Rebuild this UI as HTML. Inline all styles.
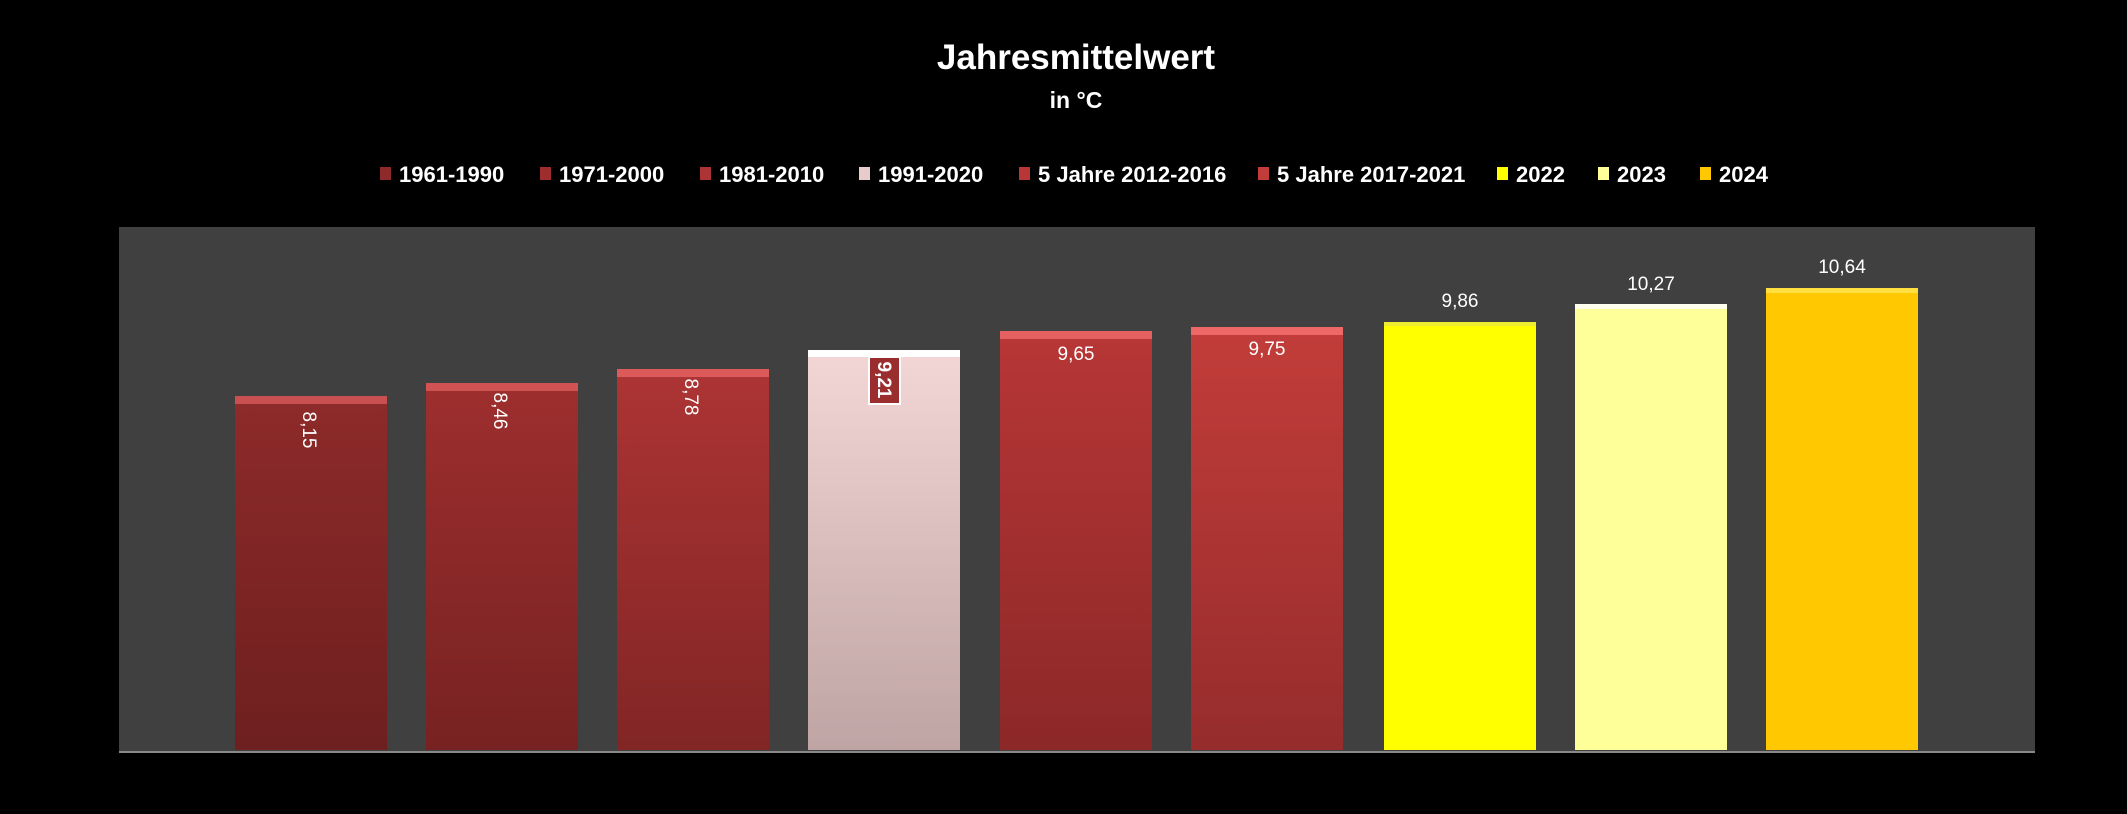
<!DOCTYPE html>
<html><head><meta charset="utf-8"><style>html,body{margin:0;padding:0;background:#000;width:2127px;height:814px;overflow:hidden}svg{display:block}text{font-family:"Liberation Sans",sans-serif}</style></head>
<body>
<svg width="2127" height="814" viewBox="0 0 2127 814" xmlns="http://www.w3.org/2000/svg">
<defs>
<linearGradient id="g1" x1="0" y1="0" x2="0" y2="1"><stop offset="0" stop-color="#8e2a2a"/><stop offset="1" stop-color="#6e1f1f"/></linearGradient>
<linearGradient id="g2" x1="0" y1="0" x2="0" y2="1"><stop offset="0" stop-color="#9e2e2e"/><stop offset="1" stop-color="#772222"/></linearGradient>
<linearGradient id="g3" x1="0" y1="0" x2="0" y2="1"><stop offset="0" stop-color="#ad3434"/><stop offset="1" stop-color="#822525"/></linearGradient>
<linearGradient id="g4" x1="0" y1="0" x2="0" y2="1"><stop offset="0" stop-color="#f3d6d6"/><stop offset="1" stop-color="#bfa4a4"/></linearGradient>
<linearGradient id="g5" x1="0" y1="0" x2="0" y2="1"><stop offset="0" stop-color="#b83636"/><stop offset="1" stop-color="#8c2828"/></linearGradient>
<linearGradient id="g6" x1="0" y1="0" x2="0" y2="1"><stop offset="0" stop-color="#c23d3a"/><stop offset="1" stop-color="#962c2c"/></linearGradient>
</defs>
<rect x="119" y="227" width="1916" height="526" fill="#404040"/>
<text x="1076" y="69" text-anchor="middle" fill="#fff" font-size="35" font-weight="bold">Jahresmittelwert</text>
<text x="1076" y="108" text-anchor="middle" fill="#fff" font-size="23" font-weight="bold">in °C</text>
<g font-size="22" font-weight="bold" fill="#fff">
<rect x="380" y="167" width="11" height="13" fill="#8e2a2a"/><text x="399" y="182">1961-1990</text>
<rect x="540" y="167" width="11" height="13" fill="#9e2e2e"/><text x="559" y="182">1971-2000</text>
<rect x="700" y="167" width="11" height="13" fill="#ad3434"/><text x="719" y="182">1981-2010</text>
<rect x="859" y="167" width="11" height="13" fill="#e8cccc"/><text x="878" y="182">1991-2020</text>
<rect x="1019" y="167" width="11" height="13" fill="#b83636"/><text x="1038" y="182">5 Jahre 2012-2016</text>
<rect x="1258" y="167" width="11" height="13" fill="#c23d3a"/><text x="1277" y="182">5 Jahre 2017-2021</text>
<rect x="1497" y="167" width="11" height="13" fill="#ffff00"/><text x="1516" y="182">2022</text>
<rect x="1598" y="167" width="11" height="13" fill="#ffff99"/><text x="1617" y="182">2023</text>
<rect x="1700" y="167" width="11" height="13" fill="#ffc800"/><text x="1719" y="182">2024</text>
</g>
<g>
<rect x="235" y="396" width="152" height="354" fill="url(#g1)"/><rect x="235" y="396" width="152" height="8" fill="#c95050"/>
<rect x="426" y="383" width="152" height="367" fill="url(#g2)"/><rect x="426" y="383" width="152" height="8" fill="#d05252"/>
<rect x="617" y="369" width="152" height="381" fill="url(#g3)"/><rect x="617" y="369" width="152" height="8" fill="#dc5a5a"/>
<rect x="808" y="350" width="152" height="400" fill="url(#g4)"/><rect x="808" y="350" width="152" height="7" fill="#ffffff"/>
<rect x="1000" y="331" width="152" height="419" fill="url(#g5)"/><rect x="1000" y="331" width="152" height="8" fill="#e56060"/>
<rect x="1191" y="327" width="152" height="423" fill="url(#g6)"/><rect x="1191" y="327" width="152" height="8" fill="#ee6868"/>
<rect x="1384" y="322" width="152" height="428" fill="#ffff00"/><rect x="1384" y="322" width="152" height="4" fill="#eeee30"/>
<rect x="1575" y="304" width="152" height="446" fill="#ffff99"/><rect x="1575" y="304" width="152" height="5" fill="#ffffee"/>
<rect x="1766" y="288" width="152" height="462" fill="#ffc800"/><rect x="1766" y="288" width="152" height="5" fill="#ffe040"/>
</g>
<line x1="119" y1="752" x2="2035" y2="752" stroke="#888" stroke-width="2"/>
<g fill="#fff" font-size="19">
<text transform="translate(303,430) rotate(90)" text-anchor="middle">8,15</text>
<text transform="translate(494,411) rotate(90)" text-anchor="middle">8,46</text>
<text transform="translate(685,397) rotate(90)" text-anchor="middle">8,78</text>
<rect x="869" y="357" width="31" height="47" fill="#9a2e2e" stroke="#fff" stroke-width="2"/>
<text transform="translate(878,380) rotate(90)" text-anchor="middle" font-weight="bold">9,21</text>
<text x="1076" y="360" text-anchor="middle">9,65</text>
<text x="1267" y="355" text-anchor="middle">9,75</text>
<text x="1460" y="307" text-anchor="middle">9,86</text>
<text x="1651" y="290" text-anchor="middle">10,27</text>
<text x="1842" y="273" text-anchor="middle">10,64</text>
</g>
</svg>
</body></html>
